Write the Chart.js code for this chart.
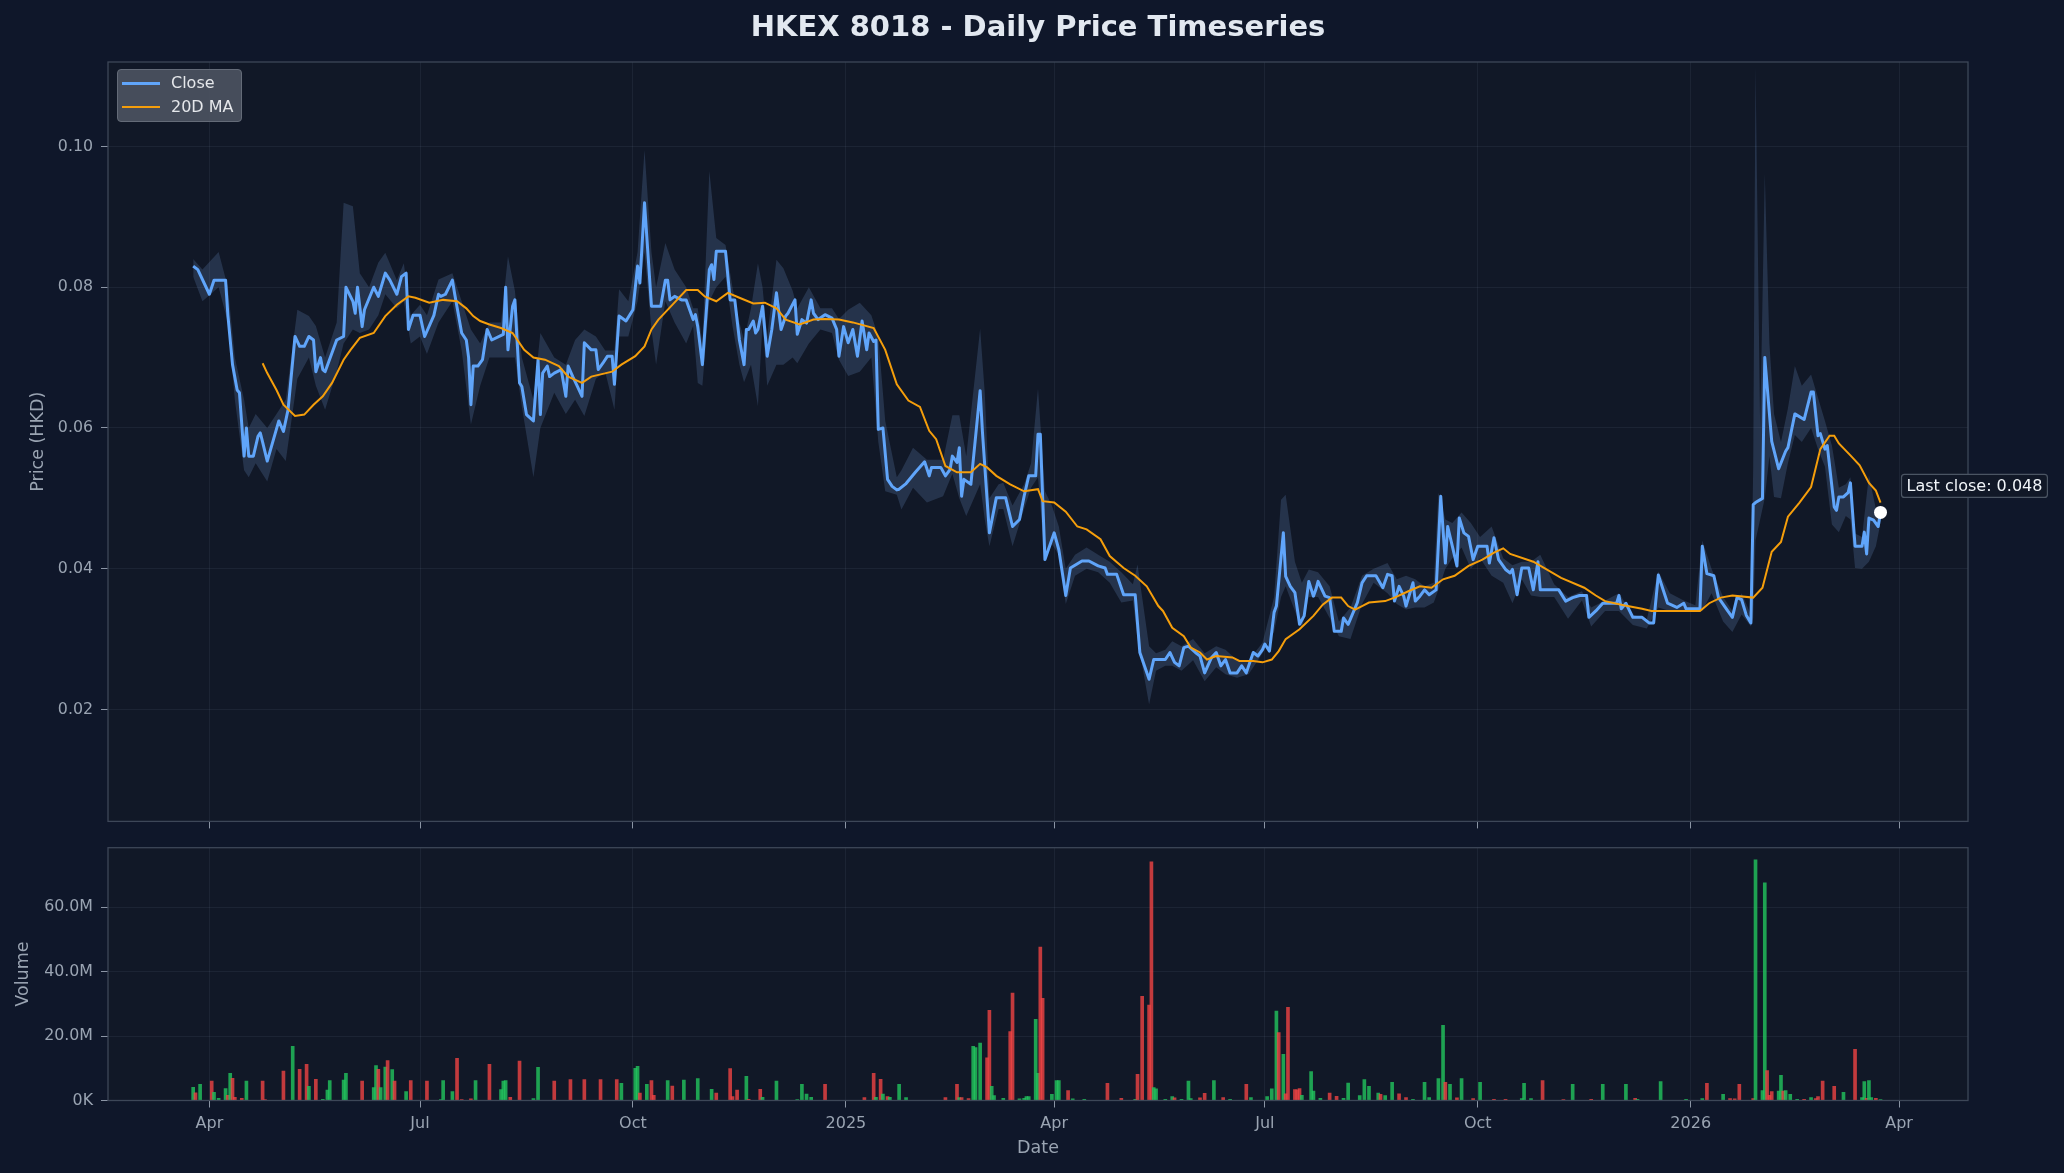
<!DOCTYPE html>
<html>
<head>
<meta charset="utf-8">
<title>HKEX 8018 - Daily Price Timeseries</title>
<script src="https://cdn.jsdelivr.net/npm/chart.js@4.4.1/dist/chart.umd.min.js"></script>
<style>
  html, body { margin: 0; padding: 0; background: #0f172a; }
  body { width: 2064px; height: 1173px; position: relative; overflow: hidden; font-family: 'DejaVu Sans', sans-serif; }
  #title { position: absolute; z-index: 2; left: 108px; width: 1860px; top: 9px; text-align: center; color: #e2e8f0; font-weight: bold; font-size: 29px; line-height: 34px; }
  #priceCanvas { position: absolute; left: 0; top: 0; }
  #volCanvas { position: absolute; left: 0; top: 836px; }
  .legend { position: absolute; z-index: 2; left: 117px; top: 69px; width: 125px; height: 53px; box-sizing: border-box;
            background: rgba(75, 82, 96, 0.92); border: 1px solid #646b78; border-radius: 4px; }
  .legend .sw { position: absolute; left: 4px; width: 38px; }
  .legend .lbl { position: absolute; left: 53px; color: #e5e7eb; font-size: 16px; line-height: 20px; }
</style>
</head>
<body>
<canvas id="priceCanvas" width="2064" height="836"></canvas>
<canvas id="volCanvas" width="2064" height="337"></canvas>
<div id="title">HKEX 8018 - Daily Price Timeseries</div>
<div class="legend">
  <div class="sw" style="top:12px;height:3px;background:#60a5fa;"></div>
  <div class="lbl" style="top:3px;">Close</div>
  <div class="sw" style="top:36px;height:2px;background:#f59e0b;"></div>
  <div class="lbl" style="top:27px;">20D MA</div>
</div>
<script>
// x values are calendar days counted from 2024-01-01
const tickDay = [91, 182, 274, 366, 456, 547, 639, 731, 821];
const tickLabel = ['Apr', 'Jul', 'Oct', '2025', 'Apr', 'Jul', 'Oct', '2026', 'Apr'];
const priceTicks = [0.02, 0.04, 0.06, 0.08, 0.10];
const volumeTicks = [0, 20, 40, 60];

// daily close (HKD)
const closeDay = [
  84,86,91,93,98,99,101,103,104,106,107,108,
  110,112,113,114,116,121,123,125,128,130,132,134,
  136,137,139,140,141,146,149,150,153,154,155,157,
  158,162,164,167,169,172,174,176,177,179,182,184,
  188,190,191,193,196,197,200,202,203,204,205,207,
  209,211,213,218,219,220,222,223,224,225,226,228,
  231,233,234,235,237,238,240,243,245,246,248,250,
  252,253,256,258,259,261,263,265,266,268,271,274,
  276,277,279,282,286,288,289,290,292,295,297,300,
  301,302,304,307,308,309,310,314,316,318,320,322,
  323,324,326,327,328,330,332,334,336,338,340,341,
  344,345,347,349,351,352,354,357,360,362,363,365,
  367,369,371,373,375,376,378,379,380,382,384,386,
  388,389,392,396,400,402,403,407,409,411,412,414,
  415,416,417,420,424,425,428,431,435,438,441,443,
  445,448,449,450,452,456,458,461,463,468,471,475,
  478,479,483,486,491,493,497,499,504,506,508,510,
  512,514,517,519,521,524,526,528,530,532,535,537,
  539,540,542,544,546,547,549,551,552,555,556,558,
  560,562,564,566,568,569,570,573,575,577,580,581,
  583,587,589,591,595,598,600,602,603,605,607,608,
  611,612,614,616,618,621,623,625,626,628,630,631,
  633,635,637,639,643,644,646,648,651,653,654,656,
  658,661,663,665,666,674,677,680,683,686,687,690,
  693,699,700,701,703,706,710,713,715,717,721,725,
  728,729,732,735,736,738,741,743,747,749,751,753,
  755,757,758,759,762,763,766,769,772,773,776,780,
  783,784,786,787,789,790,793,794,795,797,799,800,
  802,805,806,807,808,810,812,813
];
const closeValue = [
  .083,.0825,.079,.081,.081,.076,.069,.0654,.065,.056,.060,.056,
  .056,.0588,.0593,.058,.0553,.061,.0595,.0626,.073,.0716,.0716,.073,
  .0725,.068,.070,.0683,.068,.0725,.073,.080,.078,.0763,.080,.0744,
  .0768,.080,.0787,.082,.081,.079,.0815,.082,.074,.076,.076,.073,
  .076,.079,.0787,.079,.081,.079,.0735,.0725,.070,.0633,.0688,.0688,
  .0697,.074,.0725,.0733,.080,.0711,.0773,.0782,.0721,.0664,.0659,.0619,
  .061,.0697,.0619,.0678,.0688,.0673,.0678,.0683,.0645,.0688,.0673,.0659,
  .0645,.0721,.0711,.0711,.0683,.0692,.0702,.0702,.0662,.0759,.0752,.0768,
  .083,.0806,.092,.0773,.0773,.081,.081,.0782,.0787,.0782,.0782,.0754,
  .0761,.0744,.069,.0825,.0832,.0811,.0851,.0851,.0782,.0782,.0725,.069,
  .074,.074,.0752,.0735,.074,.0773,.0702,.074,.0792,.074,.0759,.0763,
  .0782,.0733,.0754,.0749,.0782,.0763,.0754,.0761,.0756,.074,.0702,.0744,
  .0721,.074,.0702,.0752,.0711,.0735,.0723,.0725,.0598,.060,.0527,.0517,
  .0512,.0513,.0521,.0537,.0552,.0532,.0544,.0544,.0532,.0541,.056,.0551,
  .0572,.0503,.0527,.052,.0653,.0594,.0451,.0501,.0501,.046,.047,.0503,
  .0532,.0532,.0591,.0591,.0413,.0451,.0427,.0362,.0401,.0411,.0411,.0404,
  .0401,.0392,.0392,.0363,.0363,.0281,.0243,.0271,.0271,.0281,.0267,.0262,
  .0288,.029,.0281,.0276,.0252,.0274,.0281,.0262,.0271,.0252,.0252,.0262,
  .0252,.0262,.0281,.0276,.0285,.0293,.0283,.0338,.0347,.0451,.0389,.0375,
  .0366,.0321,.0333,.0382,.0361,.037,.0382,.0361,.0359,.0311,.0311,.033,
  .0321,.0352,.038,.039,.039,.0373,.0392,.039,.0354,.0375,.0361,.0347,
  .038,.0354,.0361,.037,.0363,.037,.0503,.0408,.046,.0432,.0404,.0472,
  .0451,.0446,.0413,.0432,.0432,.0408,.0444,.0413,.0399,.0394,.0399,.0363,
  .0401,.0401,.037,.041,.037,.037,.0354,.0359,.0362,.0362,.0331,.034,
  .0351,.0351,.0362,.0343,.0351,.0331,.0331,.0323,.0323,.0391,.0351,.0345,
  .0351,.0343,.0343,.0343,.0432,.0393,.039,.0359,.034,.0331,.0359,.0356,
  .0334,.0323,.0491,.0494,.050,.070,.0581,.0542,.0567,.0572,.062,.0612,
  .0651,.0651,.0589,.0592,.057,.0575,.0488,.0483,.0502,.0502,.0508,.0522,
  .0432,.0432,.0452,.0421,.0472,.0469,.046,.048
];

// 20 day moving average
const maDay = [
  114,116,120,123,128,132,136,140,144,149,152,156,
  162,167,172,177,180,186,192,198,202,205,208,212,
  217,222,227,231,236,242,246,252,256,265,269,275,
  279,282,285,291,297,302,305,310,315,320,326,331,
  336,340,346,352,357,363,369,378,383,388,393,398,
  402,405,409,414,420,424,427,431,437,443,449,451,
  456,461,466,470,476,480,486,491,496,501,503,507,
  512,515,519,522,526,533,536,542,546,550,553,556,
  562,568,572,576,580,583,586,589,592,599,603,609,
  614,619,624,629,635,641,646,650,653,663,675,685,
  690,694,702,710,714,728,735,739,744,749,758,762,
  766,770,773,778,783,787,791,793,795,800,804,808,
  811,813
];
const maValue = [
  .0692,.0678,.0654,.0633,.0617,.0619,.0633,.0645,.0664,.0697,.0711,.0728,
  .0735,.0759,.0775,.0787,.0785,.0778,.0782,.078,.077,.0759,.0752,.0747,
  .0742,.0735,.0711,.070,.0697,.0688,.0673,.0664,.0673,.068,.069,.0702,
  .0716,.074,.0754,.0775,.0796,.0796,.0787,.078,.0792,.0785,.0777,.0778,
  .077,.0754,.0747,.0754,.0755,.0754,.075,.0742,.0711,.0662,.0639,.063,
  .0596,.0584,.0546,.0537,.0537,.0549,.0544,.0532,.052,.051,.0513,.0496,
  .0494,.0481,.046,.0456,.0442,.0418,.0401,.039,.0375,.0347,.034,.0316,
  .0304,.0288,.0281,.0271,.0276,.0274,.0269,.0269,.0267,.0271,.0283,.030,
  .0314,.0333,.0349,.0359,.0359,.0347,.0342,.0347,.0352,.0354,.0359,.0368,
  .0375,.0373,.0385,.039,.0404,.0413,.0423,.0429,.0421,.041,.0387,.0373,
  .0362,.0354,.0348,.0343,.034,.034,.034,.0351,.0359,.0362,.0359,.0373,
  .0424,.0438,.0474,.0494,.0516,.057,.0589,.0589,.0578,.0561,.0547,.0522,
  .0511,.0494
];

// daily high / low range (shaded band)
const bandDay = [
  84,88,95,99,102,106,108,111,116,120,124,129,
  134,137,141,146,149,153,156,160,164,167,172,175,
  178,182,185,190,196,200,204,208,212,217,220,223,
  226,231,234,240,245,249,253,258,262,266,268,272,
  276,279,282,284,288,292,297,300,302,304,307,310,
  314,317,320,322,325,328,330,332,336,339,343,345,
  350,355,360,363,367,372,377,380,383,388,390,395,
  401,408,412,415,418,424,426,428,432,434,438,443,
  446,449,452,455,458,461,465,470,475,480,485,490,
  492,497,500,504,507,511,516,521,526,530,535,540,
  546,551,554,556,560,563,566,570,575,579,584,589,
  594,600,604,608,612,616,620,622,625,628,632,636,
  640,645,650,654,658,662,666,672,678,684,688,694,
  700,706,712,717,722,728,733,736,740,745,749,753,
  757,758,759,761,763,765,767,770,773,776,779,783,
  786,789,792,795,798,800,802,805,808,811,813
];
const bandHigh = [
  .084,.0825,.085,.080,.070,.064,.060,.062,.060,.062,.064,.0768,
  .0759,.0745,.070,.075,.092,.0915,.082,.080,.0835,.0849,.081,.0834,
  .076,.0775,.076,.0811,.082,.078,.074,.072,.075,.075,.0844,.0795,
  .070,.064,.0735,.070,.069,.0725,.074,.073,.071,.071,.0797,.078,
  .085,.0995,.085,.080,.0863,.0825,.080,.077,.077,.072,.0965,.087,
  .086,.080,.075,.0725,.077,.0834,.080,.073,.0839,.0827,.0795,.077,
  .080,.077,.077,.0755,.0768,.0778,.076,.073,.061,.053,.054,.0572,
  .0555,.0555,.0618,.0618,.056,.0741,.065,.050,.052,.0522,.049,.052,
  .055,.0656,.051,.049,.046,.040,.042,.043,.042,.041,.0395,.0378,
  .0406,.029,.028,.0285,.0297,.029,.030,.028,.029,.0285,.027,.027,
  .0295,.036,.0498,.0505,.041,.038,.0399,.0395,.0375,.0325,.0345,.039,
  .040,.0408,.0385,.039,.0385,.0375,.038,.0508,.047,.0465,.048,.0465,
  .0445,.046,.0415,.0405,.041,.041,.042,.0378,.036,.0368,.0345,.0355,
  .0365,.0335,.0328,.0396,.0365,.0355,.0348,.044,.040,.036,.034,.0365,
  .0335,.0545,.1115,.060,.0962,.072,.062,.058,.0628,.0688,.066,.0676,
  .0643,.061,.0575,.0515,.052,.053,.045,.0445,.0533,.0485,.049
];
const bandLow = [
  .0815,.078,.080,.075,.064,.054,.053,.055,.0524,.057,.0553,.067,
  .070,.066,.0626,.068,.072,.074,.0735,.074,.076,.079,.077,.078,
  .072,.073,.0705,.075,.078,.071,.0605,.066,.070,.070,.070,.070,
  .063,.053,.060,.065,.062,.064,.0617,.067,.068,.0626,.073,.073,
  .078,.085,.074,.069,.078,.075,.072,.0745,.0664,.066,.078,.080,
  .0815,.0745,.069,.0665,.069,.0631,.075,.066,.069,.069,.070,.0692,
  .072,.074,.0735,.0697,.0674,.068,.070,.058,.051,.0505,.0484,.0515,
  .0494,.0503,.0535,.050,.0475,.052,.047,.0432,.0485,.0485,.0432,.0485,
  .0515,.053,.041,.0435,.042,.035,.039,.040,.0395,.038,.0352,.0355,
  .030,.0207,.0255,.0262,.0262,.0255,.027,.024,.026,.025,.0245,.025,
  .028,.031,.036,.0375,.034,.0315,.036,.036,.033,.0304,.030,.035,
  .038,.0365,.035,.0342,.0345,.0345,.0352,.037,.040,.0415,.043,.040,
  .0415,.039,.038,.0351,.0385,.0362,.036,.036,.0329,.0355,.0318,.034,
  .034,.032,.0315,.0345,.034,.034,.034,.034,.0365,.0325,.031,.0335,
  .0318,.033,.044,.047,.050,.056,.0502,.050,.055,.059,.058,.060,
  .057,.0545,.0463,.0452,.0475,.047,.0401,.040,.041,.0432,.0465
];

// daily volume in millions of shares, up = close above previous close
const volumeDay = [
  84,85,87,92,93,95,98,99,100,101,102,105,
  107,114,115,123,127,130,133,134,137,140,142,143,
  149,150,157,162,163,164,165,167,168,170,171,176,
  178,185,191,192,196,198,200,204,206,212,217,218,
  219,221,225,231,233,240,247,253,260,267,269,275,
  276,277,280,282,283,289,291,296,302,308,310,316,
  317,319,323,324,329,330,336,345,347,349,351,357,
  374,378,379,381,382,384,385,389,392,409,414,415,
  416,419,421,422,424,427,428,429,430,434,437,438,
  441,443,444,445,448,449,450,451,455,457,458,462,
  464,469,479,485,491,492,494,497,498,499,500,504,
  507,508,511,514,515,519,521,525,529,532,539,541,
  548,550,552,553,555,556,557,560,561,562,563,567,
  568,571,575,578,581,583,588,590,592,596,597,599,
  602,605,608,611,616,618,622,624,625,627,630,632,
  637,640,646,651,658,659,662,667,676,680,688,693,
  703,707,708,718,729,736,738,745,748,750,752,758,
  759,762,763,764,765,766,769,770,771,772,774,777,
  780,783,785,786,788,793,797,802,805,806,807,808,
  809,811,813
];
const volumeM = [
  4.1,2.4,5.0,6.0,2.5,0.7,3.7,1.6,8.4,6.9,1.0,0.7,
  6.0,6.0,0.3,9.1,16.8,9.7,11.2,4.4,6.6,0.4,3.2,6.2,
  6.3,8.4,6.0,4.0,10.8,9.7,4.0,10.4,12.4,9.6,6.0,2.8,
  6.2,6.0,0.3,6.2,2.8,13.1,0.3,0.5,6.2,11.2,3.4,6.0,
  6.2,1.0,12.2,0.6,10.3,6.0,6.5,6.5,6.5,6.5,5.3,10.0,
  10.6,2.3,5.0,6.2,1.6,6.2,4.5,6.3,6.8,3.5,2.3,9.9,
  1.2,3.2,7.5,0.4,3.5,1.0,6.0,0.3,5.0,2.0,1.0,5.0,
  0.9,8.4,1.0,6.6,2.0,1.2,1.0,5.0,0.9,0.9,5.0,0.9,
  0.9,0.6,16.8,16.4,17.8,13.2,28.0,4.4,1.5,0.7,21.4,33.3,
  0.5,0.7,1.2,1.2,25.2,8.4,47.6,31.7,1.9,6.2,6.2,3.1,
  0.5,0.4,5.3,0.7,0.4,8.1,32.3,29.6,74.0,4.0,3.6,0.4,
  1.2,0.8,0.4,6.0,0.6,0.8,2.2,6.2,0.9,0.4,5.0,0.9,
  1.2,3.6,27.7,21.1,14.3,2.1,28.9,3.4,3.3,3.7,1.6,9.0,
  2.9,0.7,2.3,1.3,0.7,5.4,1.5,6.5,4.4,2.3,1.9,1.5,
  5.6,2.1,0.9,0.4,5.6,0.9,6.8,23.3,5.6,5.0,0.8,6.8,
  0.6,5.6,0.4,0.4,0.6,5.3,0.6,6.2,0.3,5.0,0.4,5.0,
  5.0,0.7,0.4,5.9,0.4,0.6,5.3,1.9,0.6,0.5,5.0,0.6,
  74.6,3.1,67.5,9.3,1.6,2.8,2.9,7.8,2.9,3.1,1.9,0.4,
  0.4,0.9,0.6,1.2,6.0,4.4,2.5,15.9,0.9,5.9,0.7,6.2,
  0.9,0.7,0.3
];
const volumeUp = [
  1,0,1,0,1,1,1,0,1,0,0,0,
  1,0,0,0,1,0,0,1,0,1,1,1,
  1,1,0,1,1,0,1,1,0,1,0,1,
  0,0,1,1,1,0,0,0,1,0,1,1,
  1,0,0,1,1,0,0,0,0,0,1,1,
  1,0,1,0,0,1,0,1,1,1,0,0,
  0,0,1,0,0,1,1,1,1,1,1,0,
  0,0,1,0,1,0,1,1,1,0,0,1,
  0,0,1,1,1,0,0,1,1,1,0,0,
  1,1,1,1,1,1,0,0,1,1,1,0,
  1,1,0,0,1,0,0,0,0,1,1,1,
  1,0,1,1,1,0,0,1,0,1,0,1,
  1,1,1,0,1,0,0,0,0,0,1,1,
  1,1,0,0,1,1,1,1,1,1,0,1,
  1,0,0,1,1,1,1,1,0,1,0,1,
  0,1,0,0,1,1,1,0,0,1,0,1,
  1,0,1,1,1,1,0,1,0,0,0,0,
  1,1,1,0,0,0,1,1,0,1,1,1,
  0,1,0,0,0,0,1,0,1,1,0,1,
  1,0,1
];

const toXY = (xs, ys) => xs.map((x, i) => ({ x: x, y: ys[i] }));

Chart.defaults.font.family = '"DejaVu Sans", sans-serif';
Chart.defaults.font.size = 16;
Chart.defaults.color = '#9aa4b2';

const gridColor = 'rgba(148, 163, 184, 0.09)';
const tickMarkColor = '#8b95a5';
const X_MIN = 47.2, X_MAX = 850.8;

// dark panel with a thin frame round the plot area
const panelPlugin = {
  id: 'panel',
  beforeDraw(chart) {
    const { ctx, chartArea: a } = chart;
    ctx.save();
    ctx.fillStyle = '#0f172a';
    ctx.fillRect(0, 0, chart.width, chart.height);
    ctx.fillStyle = '#111827';
    ctx.fillRect(a.left, a.top, a.right - a.left, a.bottom - a.top);
    ctx.restore();
  },
  afterDraw(chart) {
    const { ctx, chartArea: a } = chart;
    ctx.save();
    ctx.strokeStyle = '#3d4758';
    ctx.lineWidth = 1.3;
    ctx.strokeRect(a.left, a.top, a.right - a.left, a.bottom - a.top);
    ctx.restore();
  }
};

// box with the last close next to the white dot
const lastClosePlugin = {
  id: 'lastClose',
  afterDraw(chart) {
    const pt = chart.getDatasetMeta(4).data[0];
    if (!pt) return;
    const ctx = chart.ctx;
    const text = 'Last close: ' + closeValue[closeValue.length - 1].toFixed(3);
    ctx.save();
    ctx.font = '16px "DejaVu Sans"';
    const w = ctx.measureText(text).width;
    const bx = pt.x + 21, by = pt.y - 38, bw = w + 10, bh = 23;
    ctx.beginPath();
    ctx.roundRect(bx, by, bw, bh, 3);
    ctx.fillStyle = '#111827';
    ctx.fill();
    ctx.strokeStyle = '#4b5563';
    ctx.lineWidth = 1.2;
    ctx.stroke();
    ctx.fillStyle = '#f1f5f9';
    ctx.textBaseline = 'middle';
    ctx.fillText(text, bx + 5, by + bh / 2 + 1);
    ctx.restore();
  }
};

const xTicksFromList = s => { s.ticks = tickDay.map(v => ({ value: v })); };
// fixed axis width, and no extra room for the end labels
const fixYAxis = s => { s.width = 108; s.paddingTop = 0; s.paddingBottom = 0; };

new Chart(document.getElementById('priceCanvas'), {
  type: 'line',
  data: {
    datasets: [
      { data: toXY(bandDay, bandHigh), borderWidth: 0, pointRadius: 0, fill: false, order: 5 },
      { data: toXY(bandDay, bandLow), borderWidth: 0, pointRadius: 0, fill: '-1',
        backgroundColor: 'rgba(120, 160, 220, 0.2)', order: 4 },
      { label: 'Close', data: toXY(closeDay, closeValue), borderColor: '#60a5fa', borderWidth: 3,
        pointRadius: 0, tension: 0, borderJoinStyle: 'round', order: 2 },
      { label: '20D MA', data: toXY(maDay, maValue), borderColor: '#f59e0b', borderWidth: 2,
        pointRadius: 0, tension: 0, order: 1 },
      { data: [{ x: closeDay[closeDay.length - 1], y: closeValue[closeValue.length - 1] }],
        showLine: false, pointRadius: 6.5, pointBackgroundColor: '#ffffff', pointBorderWidth: 0, order: 0 }
    ]
  },
  options: {
    responsive: false,
    animation: false,
    devicePixelRatio: 1,
    layout: { padding: { top: 62, right: 96, left: 0, bottom: 0 } },
    plugins: { legend: { display: false }, tooltip: { enabled: false } },
    scales: {
      x: {
        type: 'linear', min: X_MIN, max: X_MAX,
        afterBuildTicks: xTicksFromList,
        afterFit: s => { s.height = 14.6; },
        ticks: { callback: () => '' },
        grid: { color: gridColor, tickColor: tickMarkColor, tickLength: 7 },
        border: { display: false }
      },
      y: {
        min: 0.0041, max: 0.112,
        afterBuildTicks: s => { s.ticks = priceTicks.map(v => ({ value: v })); },
        afterFit: fixYAxis,
        ticks: { padding: 8, font: { size: 15.8 }, callback: v => v.toFixed(2) },
        title: { display: true, text: 'Price (HKD)', font: { size: 17.5 }, padding: { top: 27.5, bottom: 0 } },
        grid: { color: gridColor, tickColor: tickMarkColor, tickLength: 7 },
        border: { display: false }
      }
    }
  },
  plugins: [panelPlugin, lastClosePlugin]
});

new Chart(document.getElementById('volCanvas'), {
  type: 'bar',
  data: {
    datasets: [{
      label: 'Volume',
      data: toXY(volumeDay, volumeM),
      backgroundColor: volumeUp.map(u => u ? 'rgba(34, 197, 94, 0.8)' : 'rgba(239, 68, 68, 0.8)'),
      borderWidth: 0,
      barThickness: 3
    }]
  },
  options: {
    responsive: false,
    animation: false,
    devicePixelRatio: 1,
    layout: { padding: { top: 11.7, right: 96, left: 0, bottom: 0 } },
    plugins: { legend: { display: false }, tooltip: { enabled: false } },
    scales: {
      x: {
        type: 'linear', min: X_MIN, max: X_MAX, offset: false,
        afterBuildTicks: xTicksFromList,
        afterFit: s => { s.height = 72.5; },
        ticks: { padding: 7, font: { size: 16 }, maxRotation: 0, autoSkip: false,
                 callback: v => tickLabel[tickDay.indexOf(v)] },
        title: { display: true, text: 'Date', font: { size: 17.5 }, padding: { top: 0, bottom: 14.5 } },
        grid: { offset: false, color: gridColor, tickColor: tickMarkColor, tickLength: 7 },
        border: { display: false }
      },
      y: {
        min: 0, max: 78.4,
        afterBuildTicks: s => { s.ticks = volumeTicks.map(v => ({ value: v })); },
        afterFit: fixYAxis,
        ticks: { padding: 8, font: { size: 15.8 }, callback: v => v === 0 ? '0K' : v.toFixed(1) + 'M' },
        title: { display: true, text: 'Volume', font: { size: 17.5 }, padding: { top: 13, bottom: 0 } },
        grid: { color: gridColor, tickColor: tickMarkColor, tickLength: 7 },
        border: { display: false }
      }
    }
  },
  plugins: [panelPlugin]
});
</script>
</body>
</html>
